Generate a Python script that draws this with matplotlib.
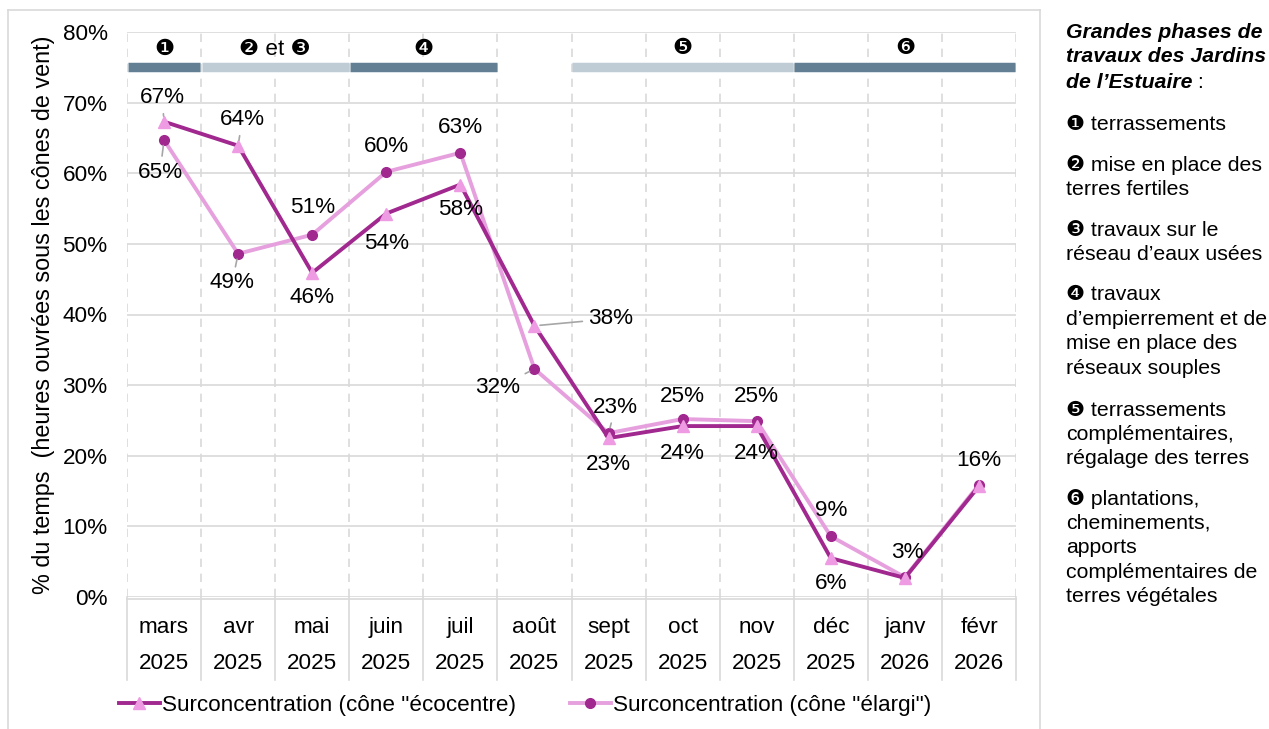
import matplotlib
matplotlib.use("Agg")
import matplotlib.pyplot as plt
from matplotlib.lines import Line2D

plt.rcParams['font.family'] = ['Liberation Sans', 'DejaVu Sans']

months = ["mars", "avr", "mai", "juin", "juil", "août", "sept", "oct", "nov", "déc", "janv", "févr"]
years = ["2025"] * 10 + ["2026"] * 2
ecocentre = [67.3, 63.9, 45.9, 54.3, 58.4, 38.4, 22.5, 24.2, 24.2, 5.5, 2.7, 15.7]
elargi = [64.7, 48.6, 51.3, 60.2, 62.9, 32.3, 23.2, 25.2, 24.9, 8.6, 2.8, 15.9]
eco_labels = ["67%", "64%", "46%", "54%", "58%", "38%", "23%", "24%", "24%", "6%", "3%", "16%"]
ela_labels = ["65%", "49%", "51%", "60%", "63%", "32%", "23%", "25%", "25%", "9%", "", ""]

phase_labels = ["❶", "❷ et ❸", "❹", "❺", "❻"]
phase_start = [0, 1, 3, 6, 9]
phase_end = [0, 2, 4, 8, 11]
phase_dark = [True, False, True, False, True]
phase_level = 75

legend_labels = ['Surconcentration (cône "écocentre)', 'Surconcentration (cône "élargi")']

side_title_lines = ["Grandes phases de", "travaux des Jardins", "de l’Estuaire"]
side_items = [
    ["❶ terrassements"],
    ["❷ mise en place des", "terres fertiles"],
    ["❸ travaux sur le", "réseau d’eaux usées"],
    ["❹ travaux", "d’empierrement et de", "mise en place des", "réseaux souples"],
    ["❺ terrassements", "complémentaires,", "régalage des terres"],
    ["❻ plantations,", "cheminements,", "apports", "complémentaires de", "terres végétales"],
]

DARK = "#A0288F"
LIGHT = "#E6A0DE"
PINK_MK = "#EE9BE3"
BAR_DARK = "#627F94"
BAR_LIGHT = "#BFCCD6"
GRID = "#D9D9D9"
FS = 16.2
FS_SIDE = 15.3

W, H = 1269, 729
fig = plt.figure(figsize=(W / 100, H / 100), dpi=100)
ax = fig.add_axes([127 / W, 1 - 597 / H, (1016 - 127) / W, (597 - 32) / H])

n = len(months)
x = list(range(n))
ax.set_xlim(-0.5, n - 0.5)
ax.set_ylim(0, 80)
for s in ax.spines.values():
    s.set_visible(False)
ax.set_yticks(range(0, 81, 10))
ax.set_yticklabels([f"{v}%" for v in range(0, 81, 10)], fontsize=FS)
ax.tick_params(axis='y', length=0, pad=14)
ax.set_xticks([])
for v in range(0, 81, 10):
    ax.axhline(v, color=GRID, lw=1.2, zorder=0)
for b in range(n + 1):
    ax.axvline(b - 0.5, color=GRID, lw=1.2, ls=(0, (5, 4)), zorder=0)

# multi-level category axis
trans = ax.get_xaxis_transform()
for b in range(n + 1):
    ax.plot([b - 0.5, b - 0.5], [0, -0.147], transform=trans, color=GRID, lw=1.2, clip_on=False)
ax.plot([-0.5, n - 0.5], [-0.004, -0.004], transform=trans, color=GRID, lw=1.2, clip_on=False)
for i in range(n):
    ax.text(i, -0.054, months[i], transform=trans, ha='center', va='center', fontsize=FS)
    ax.text(i, -0.118, years[i], transform=trans, ha='center', va='center', fontsize=FS)

ax.set_ylabel("% du temps  (heures ouvrées sous les cônes de vent)", fontsize=16.8, labelpad=5.5)

# phase bars
for lab, s, e, dk in zip(phase_labels, phase_start, phase_end, phase_dark):
    ax.hlines(phase_level, s - 0.49, e + 0.49, color=BAR_DARK if dk else BAR_LIGHT, lw=6.8, zorder=3)
    ax.text((s + e) / 2, 77.6, lab, ha='center', va='center', fontsize=FS)

# lines
ax.plot(x, ecocentre, color=DARK, lw=2.8, marker='^', ms=8.5, mfc=PINK_MK, mec=PINK_MK, zorder=5)
ax.plot(x, elargi, color=LIGHT, lw=2.8, marker='o', ms=7, mfc=DARK, mec=DARK, zorder=4)

# data labels (offsets in pixels: dx, dy with dy positive upward)
px = 0.72
eco_off = [(-2, 24, True), (4, 26, True), (0, -25, False), (0, -30, False), (0, -25, False),
           (76, 7, True), (0, -26, False), (0, -27, False), (0, -27, False), (0, -25, False),
           (2, 25, False), (0, 26, False)]
ela_off = [(-4, -32, True), (-6, -29, True), (0, 27, False), (0, 25, False), (0, 25, False),
           (-37, -19, True), (7, 26, True), (0, 23, False), (0, 25, False), (0, 26, False),
           (0, 0, False), (0, 0, False)]
for vals, labels, offs in ((ecocentre, eco_labels, eco_off), (elargi, ela_labels, ela_off)):
    for i, (v, lab, (dx, dy, lead)) in enumerate(zip(vals, labels, offs)):
        if not lab:
            continue
        kw = {}
        if lead:
            kw['arrowprops'] = dict(arrowstyle='-', color='#A6A6A6', lw=1.2, shrinkA=2, shrinkB=4)
        ax.annotate(lab, (i, v), xytext=(dx * px, dy * px), textcoords='offset points',
                    ha='center', va='center', fontsize=FS, zorder=6, **kw)

# legend
handles = [Line2D([], [], color=DARK, lw=2.8, marker='^', ms=8.5, mfc=PINK_MK, mec=PINK_MK),
           Line2D([], [], color=LIGHT, lw=2.8, marker='o', ms=7, mfc=DARK, mec=DARK)]
fig.legend(handles, legend_labels, loc='center left', bbox_to_anchor=(119 / W, 1 - 705 / H),
           ncol=2, frameon=False, fontsize=FS, handlelength=1.8, handletextpad=0.12,
           columnspacing=2.4, borderpad=0, borderaxespad=0)

# side panel
renderer = fig.canvas.get_renderer()
title_y = [33, 57, 82]
last = None
for ty, line in zip(title_y, side_title_lines):
    last = fig.text(1066 / W, 1 - ty / H, line, ha='left', va='center', fontsize=FS_SIDE,
                    fontweight='bold', fontstyle='italic')
bb = last.get_window_extent(renderer)
fig.text(bb.x1 / W, 1 - 82 / H, " :", ha='left', va='center', fontsize=FS_SIDE)
ys = [125, 165, 230, 295, 410, 499]
pitch = 24.4
for y0, lines in zip(ys, side_items):
    for k, line in enumerate(lines):
        fig.text(1066 / W, 1 - (y0 + k * pitch) / H, line, ha='left', va='center', fontsize=FS_SIDE)

# outer frame
for (x0, y0, x1, y1) in ((8, 10, 8, 740), (8, 10, 1040, 10), (1040, 10, 1040, 740)):
    fig.add_artist(Line2D([x0 / W, x1 / W], [1 - y0 / H, 1 - y1 / H], color=GRID, lw=1.2))

fig.savefig("out.png", dpi=100)
